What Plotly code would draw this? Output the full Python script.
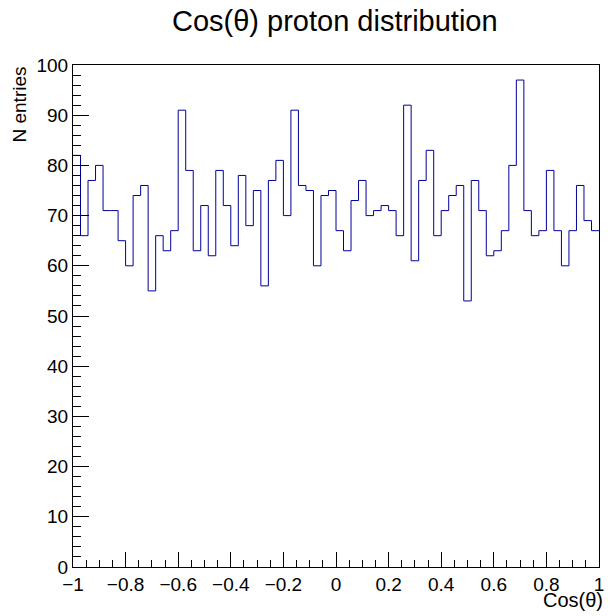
import numpy as np
import plotly.graph_objects as go

# Histogram: Cos(theta) proton distribution, 70 bins from -1 to 1
x_min, x_max = -1.0, 1.0
counts = [82, 66, 77, 80, 71, 71, 65, 60, 74, 76,
          55, 66, 63, 67, 91, 79, 63, 72, 62, 79,
          72, 64, 78, 68, 75, 56, 77, 81, 70, 91,
          76, 75, 60, 74, 75, 67, 63, 73, 77, 70,
          71, 72, 71, 66, 92, 61, 77, 83, 66, 71,
          74, 76, 53, 77, 71, 62, 63, 67, 80, 97,
          71, 66, 67, 79, 67, 60, 67, 76, 69, 67]

title_text = "Cos(θ) proton distribution"
x_title = "Cos(θ)"
y_title = "N entries"

edges = np.linspace(x_min, x_max, len(counts) + 1)
ys = list(counts) + [counts[-1]]

FONT = "Liberation Sans, Arial, Helvetica, sans-serif"

fig = go.Figure()
fig.add_trace(go.Scatter(
    x=edges, y=ys, mode="lines", line_shape="hv",
    line=dict(color="#000099", width=1), hoverinfo="skip", showlegend=False,
))

W, H = 610, 616
L, R, T, B = 73, 6, 65, 49
pw, ph = W - L - R, H - T - B

fig.update_layout(
    width=W, height=H,
    margin=dict(l=L, r=R, t=T, b=B, pad=0),
    paper_bgcolor="white", plot_bgcolor="white",
    font=dict(family=FONT, size=19, color="black"),
    showlegend=False,
)
fig.update_xaxes(
    range=[x_min, x_max], dtick=0.2, tick0=-1,
    ticks="inside", ticklen=15, tickwidth=1, tickcolor="black",
    minor=dict(dtick=0.05, ticks="inside", ticklen=7, tickwidth=1, tickcolor="black"),
    showgrid=False, zeroline=False,
    showline=True, mirror=True, linecolor="black", linewidth=1,
    tickfont=dict(size=19),
)
fig.update_yaxes(
    range=[0, 100], dtick=10, tick0=0,
    ticks="inside", ticklen=16, tickwidth=1, tickcolor="black",
    minor=dict(dtick=2, ticks="inside", ticklen=8, tickwidth=1, tickcolor="black"),
    showgrid=False, zeroline=False,
    showline=True, mirror=True, linecolor="black", linewidth=1,
    tickfont=dict(size=19),
)

fig.add_annotation(
    text=title_text, xref="paper", yref="paper",
    x=(337.5 - L) / pw, y=(T - 21) / ph + 1, xanchor="center", yanchor="middle",
    showarrow=False, font=dict(size=29),
)
fig.add_annotation(
    text=x_title, xref="paper", yref="paper",
    x=(610 - L) / pw, y=-(600 - (T + ph)) / ph, xanchor="right", yanchor="middle",
    showarrow=False, font=dict(size=20),
)
fig.add_annotation(
    text=y_title, xref="paper", yref="paper", textangle=-90,
    x=(18 - L) / pw, y=1.0, xanchor="center", yanchor="top",
    showarrow=False, font=dict(size=19),
)

fig.write_html("out.html")
